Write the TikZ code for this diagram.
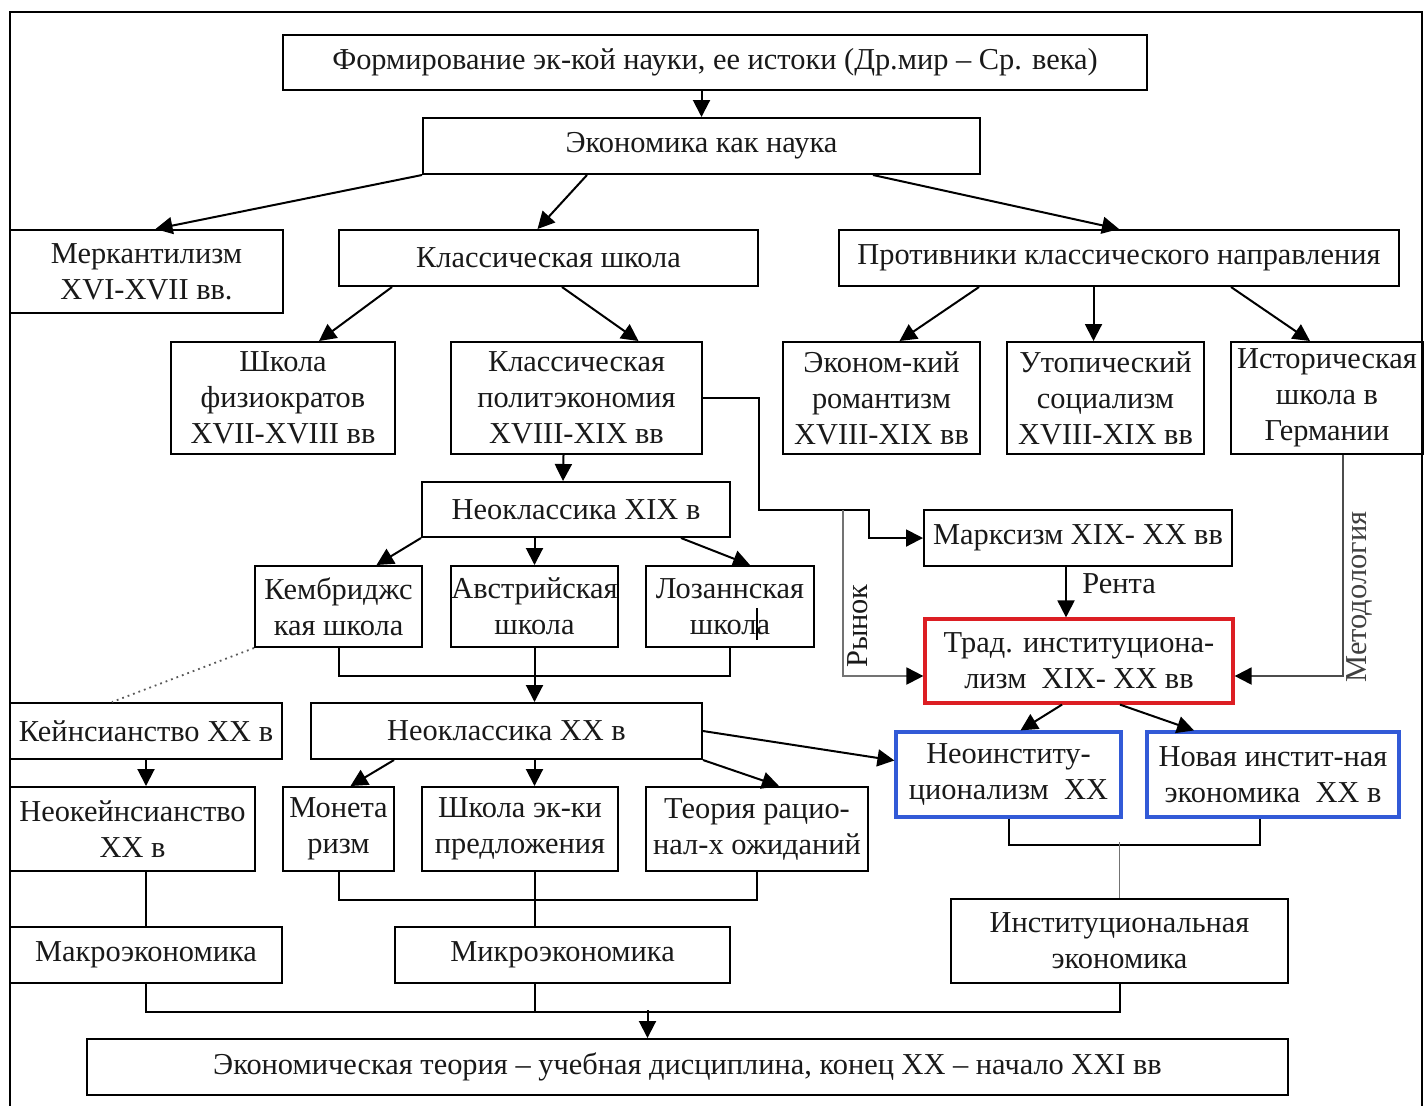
\documentclass[tikz,border=0pt]{standalone}
\usepackage{fontspec}
\setmainfont{Liberation Serif}
\usetikzlibrary{calc,arrows.meta}
\definecolor{redb}{RGB}{220,30,35}
\definecolor{blueb}{RGB}{50,90,215}
\newcommand\fs{\fontsize{15.2}{18}\selectfont}
\newcommand\mybox[7][]{\node[box,#1,minimum width={(#5-#3)*0.5pt},minimum height={(#6-#4)*0.5pt}] (#2) at ({(#3+#5)/2},{(#4+#6)/2}) {#7};}
\tikzset{
  box/.style={draw, line width=1pt, inner sep=0pt, align=center, font=\fs, text=black!90},
  redbox/.style={draw=redb, line width=1.6pt},
  bluebox/.style={draw=blueb, line width=1.6pt},
  con/.style={line width=1pt},
  arr/.style={con, -{Triangle[length=8.5pt,width=8.5pt]}},
  garr/.style={line width=1pt, draw=black!55, -{Triangle[length=8.5pt,width=8.5pt,fill=black,color=black]}},
  lbl/.style={font=\fs, inner sep=0pt, text=black!90}
}
\begin{document}
\begin{tikzpicture}[x=0.5pt,y=-0.5pt]
\useasboundingbox (0,0) rectangle (1427,1105);
\draw[line width=1pt] (10,12) rectangle (1422,1120);
% boxes
\mybox{top}{283}{35}{1147}{90}{Формирование эк-кой науки, ее истоки (Др.мир – Ср. века)}
\mybox{eko}{423}{118}{980}{174}{Экономика как наука}
\mybox{merc}{10}{230}{283}{313}{Меркантилизм\\XVI-XVII вв.}
\mybox{klass}{339}{230}{758}{286}{Классическая школа}
\mybox{prot}{839}{230}{1399}{286}{Противники классического направления}
\mybox{fiz}{171}{342}{395}{454}{Школа\\физиократов\\XVII-XVIII вв}
\mybox{polit}{451}{342}{702}{454}{Классическая\\политэкономия\\XVIII-XIX вв}
\mybox{rom}{783}{342}{980}{454}{Эконом-кий\\романтизм\\XVIII-XIX вв}
\mybox{utop}{1007}{342}{1204}{454}{Утопический\\социализм\\XVIII-XIX вв}
\mybox{hist}{1231}{342}{1423}{454}{Историческая\\школа в\\Германии}
\mybox{neoA}{422}{482}{730}{537}{Неоклассика XIX в}
\mybox{marx}{924}{510}{1232}{566}{Марксизм XIX- XX вв}
\mybox{camb}{255}{566}{422}{647}{Кембриджс\\кая школа}
\mybox{aust}{451}{566}{618}{647}{Австрийская\\школа}
\mybox{laus}{646}{566}{814}{647}{Лозаннская\\школа}
\mybox[redbox]{trad}{925}{619}{1233}{703}{Трад. институциона-\\лизм\enspace XIX- XX вв}
\mybox{keyn}{10}{703}{282}{759}{Кейнсианство XX в}
\mybox{neoB}{311}{703}{702}{759}{Неоклассика XX в}
\mybox[bluebox]{neoinst}{896}{732}{1121}{817}{Неоинститу-\\ционализм\enspace XX}
\mybox[bluebox]{newinst}{1147}{732}{1399}{817}{Новая инстит-ная\\экономика\enspace XX в}
\mybox{neokeyn}{10}{787}{255}{871}{Неокейнсианство\\XX в}
\mybox{monet}{283}{787}{394}{871}{Монета\\ризм}
\mybox{supply}{422}{787}{618}{871}{Школа эк-ки\\предложения}
\mybox{ratio}{646}{787}{868}{871}{Теория рацио-\\нал-х ожиданий}
\mybox{inst}{951}{899}{1288}{983}{Институциональная\\экономика}
\mybox{macro}{10}{927}{282}{983}{Макроэкономика}
\mybox{micro}{395}{927}{730}{983}{Микроэкономика}
\mybox{theory}{87}{1039}{1288}{1095}{Экономическая теория – учебная дисциплина, конец XX – начало XXI вв}
% connectors
\draw[arr] (top.south -| eko.north) -- (eko.north);
\draw[arr] (eko.south west) -- ($(merc.north)+(9,0)$);
\draw[arr] ($(eko.south west)+(165,0)$) -- ($(klass.north)+(-11,0)$);
\draw[arr] ($(eko.south east)+(-108,0)$) -- (prot.north);
\draw[arr] ($(klass.south west)+(54,0)$) -- ($(fiz.north)+(36,0)$);
\draw[arr] ($(klass.south west)+(224,0)$) -- ($(polit.north)+(62,0)$);
\draw[arr] ($(prot.south west)+(141,0)$) -- ($(rom.north)+(18,0)$);
\draw[arr] ($(utop.north)+(-12,-56)$) -- ($(utop.north)+(-12,0)$);
\draw[arr] ($(prot.south west)+(393,0)$) -- ($(hist.north)+(-17,0)$);
\draw[arr] ($(polit.south)+(-13,0)$) -- ($(neoA.north)+(-13,0)$);
\draw[arr] (neoA.south west) -- ($(camb.north)+(38,0)$);
\draw[arr] (aust.north |- neoA.south) -- (aust.north);
\draw[arr] ($(neoA.south east)+(-50,0)$) -- ($(laus.north)+(20,0)$);
\draw[con] (camb.south) -- ++(0,28) -| (laus.south);
\draw[arr] (aust.south) -- (aust.south |- neoB.north);
\draw[line width=0.9pt, black!65, dotted] (camb.south west) -- ($(keyn.north)+(-34,0)$);
\draw[line width=0.6pt] ($(laus.south)+(27,-40)$) -- ++(0,32);
\draw[arr] (keyn.south) -- (keyn.south |- neokeyn.north);
\draw[arr] ($(neoB.south west)+(84,0)$) -- ($(monet.north)+(12,0)$);
\draw[arr] (aust.south |- neoB.south) -- (aust.south |- supply.north);
\draw[arr] (neoB.south east) -- ($(ratio.north)+(22,0)$);
\draw[arr] (neoB.east) -- ($(neoinst.west)+(0,-14)$);
\draw[con] (monet.south) -- ++(0,28) -| (ratio.south);
\draw[con] (aust.south |- supply.south) -- (aust.south |- micro.north);
\draw[con] (macro.north |- neokeyn.south) -- (macro.north);
\draw[con] (macro.south) -- ++(0,28) -| (inst.south);
\draw[con] (aust.south |- micro.south) -- ++(0,28);
\draw[arr] ($(theory.north)+(-40,-28)$) -- ($(theory.north)+(-40,0)$);
\draw[con] (neoinst.south) -- ++(0,26) -| ($(newinst.south)+(-13,0)$);
\draw[line width=0.6pt, black!55] ($(inst.north)+(0,-56)$) -- (inst.north);
\draw[arr] ($(trad.south)+(-17,0)$) -- ($(neoinst.north)+(12,0)$);
\draw[arr] ($(trad.south)+(41,0)$) -- ($(newinst.north)+(-79,0)$);
\draw[arr] ($(marx.south)+(-12,0)$) -- ($(trad.north)+(-13,0)$);
\node[lbl, anchor=west] (renta) at ($(marx.south)+(4,17)$) {Рента};
\draw[arr] (polit.east) -- ++(56,0) -- ++(0,112) -- ++(110,0) |- (marx.west);
\draw[garr] ($(polit.east)+(140,112)$) |- ($(trad.west)+(0,15)$);
\node[lbl, rotate=90] (rynok) at ($(trad.west)+(-66,-35)$) {Рынок};
\draw[garr, draw=black!70] ($(hist.south)+(16,0)$) |- ($(trad.east)+(0,15)$);
\node[lbl, rotate=90, text=black!75] (metod) at ($(hist.south)+(32,142)$) {Методология};
\end{tikzpicture}
\end{document}
